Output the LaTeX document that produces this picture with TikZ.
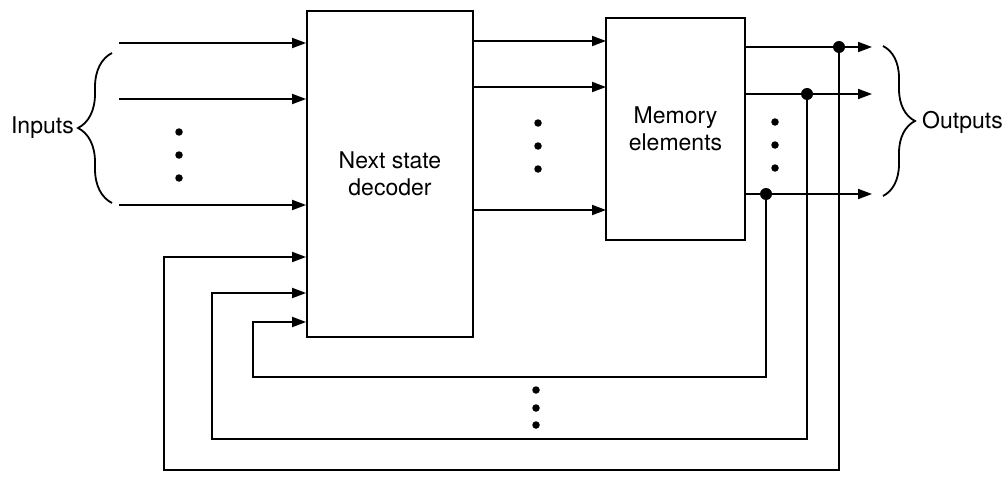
\documentclass[tikz,border=0pt]{standalone}
\usepackage{fontspec}
\setmainfont{TeX Gyre Heros}
\usetikzlibrary{arrows.meta,decorations.pathreplacing}
\begin{document}
\begin{tikzpicture}[x=1pt,y=-1pt,
  wire/.style={line width=1.8pt},
  arr/.style={wire,-{Triangle[length=14pt,width=10pt]}},
  box/.style={draw,line width=1.8pt,align=center,inner sep=0pt,
    font=\fontsize{23}{27}\selectfont},
  lbl/.style={inner sep=0pt,font=\fontsize{23}{27}\selectfont},
  jdot/.style={circle,fill,inner sep=0pt,minimum size=12pt},
  edot/.style={circle,fill,inner sep=0pt,minimum size=7.5pt},
  brc/.style={line width=1.8pt,decorate,decoration={brace,amplitude=#1}}]
\useasboundingbox (0,0) rectangle (1008,476);
% blocks
\node[box,minimum width=166pt,minimum height=326pt] (nsd) at (390,174) {Next state\\decoder};
\node[box,minimum width=139pt,minimum height=222pt] (mem) at (675.5,129) {Memory\\elements};
% inputs
\coordinate (in1) at (119,43);
\coordinate (in2) at (119,99);
\coordinate (in3) at (119,205);
\draw[arr] (in1) -- (in1 -| nsd.west);
\draw[arr] (in2) -- (in2 -| nsd.west);
\draw[arr] (in3) -- (in3 -| nsd.west);
\node[edot] (di1) at (179,132) {};
\node[edot] (di2) at (179,155) {};
\node[edot] (di3) at (179,178) {};
% decoder -> memory
\coordinate (m1) at (606,41);
\coordinate (m2) at (606,87);
\coordinate (m3) at (606,210);
\draw[arr] (m1 -| nsd.east) -- (m1);
\draw[arr] (m2 -| nsd.east) -- (m2);
\draw[arr] (m3 -| nsd.east) -- (m3);
\node[edot] (dm1) at (538,123) {};
\node[edot] (dm2) at (538,146) {};
\node[edot] (dm3) at (538,169) {};
% outputs
\coordinate (o1) at (872,47);
\coordinate (o2) at (872,94);
\coordinate (o3) at (872,194);
\draw[arr] (o1 -| mem.east) -- (o1);
\draw[arr] (o2 -| mem.east) -- (o2);
\draw[arr] (o3 -| mem.east) -- (o3);
\node[edot] (do1) at (775,122) {};
\node[edot] (do2) at (775,145) {};
\node[edot] (do3) at (775,168) {};
% feedback
\node[jdot] (j1) at (839,47) {};
\node[jdot] (j2) at (807,94) {};
\node[jdot] (j3) at (766,194) {};
\coordinate (c1) at (164,470);
\coordinate (c2) at (212,439);
\coordinate (c3) at (253,377);
\coordinate (f1) at (nsd.west |- 0,257);
\coordinate (f2) at (nsd.west |- 0,293);
\coordinate (f3) at (nsd.west |- 0,322);
\draw[arr] (j1.center) |- (c1) |- (f1);
\draw[arr] (j2.center) |- (c2) |- (f2);
\draw[arr] (j3.center) |- (c3) |- (f3);
\node[edot] (db1) at (536,390) {};
\node[edot] (db2) at (536,408) {};
\node[edot] (db3) at (536,425) {};
% braces and labels
\coordinate (bi1) at (112,203);
\coordinate (bi2) at (112,53);
\draw[brc=34pt] (bi1) -- (bi2);
\node[lbl,anchor=east] (inl) at (74,128) {Inputs};
\coordinate (bo1) at (883,46);
\coordinate (bo2) at (883,196);
\draw[brc=32pt] (bo1) -- (bo2);
\node[lbl,anchor=west] (outl) at (922,122) {Outputs};
\end{tikzpicture}
\end{document}
